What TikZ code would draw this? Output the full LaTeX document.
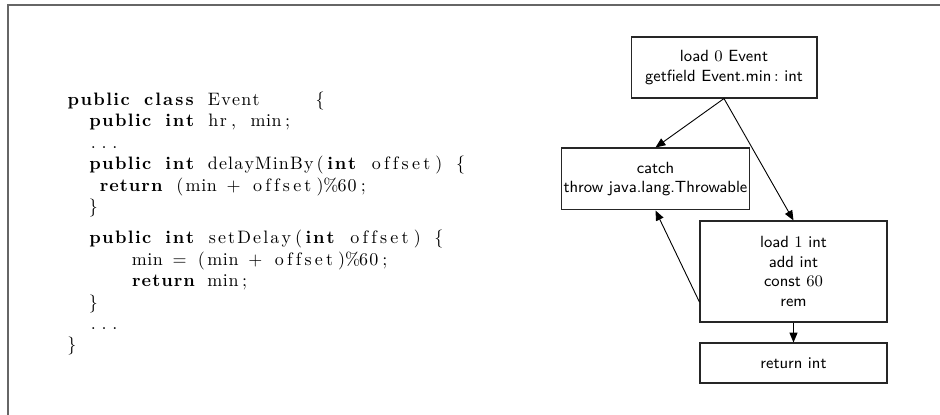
\documentclass[tikz,border=0pt]{standalone}
\usetikzlibrary{arrows.meta,calc}
\makeatletter
\newlength\fxw
\setlength\fxw{6pt}
\newcount\tkn
% a token set in fixed columns, letters spread as in listings
\newcommand\tk[1]{\tkn=0 \@tfor\tk@c:=#1\do{\advance\tkn 1 }%
  \hbox to \tkn\fxw{\hss\@tfor\tk@c:=#1\do{\tk@c\hss}}}
\makeatother
\newcommand\kw[1]{{\bfseries\tk{#1}}}
\newcommand\sk{\hspace*{\fxw}}
\begin{document}
\begin{tikzpicture}[x=0.5556pt,y=-0.5556pt,
  box/.style={draw=black!85,line width=0.6pt,font=\small\sffamily,align=center,inner sep=1pt},
  code/.style={anchor=base west,inner sep=0pt,font=\fontsize{10}{12}\selectfont},
  arr/.style={-{Triangle[length=5.5pt,width=4.5pt]},line width=0.5pt}]
\useasboundingbox (0,0) rectangle (940,415);
\draw[black!60,line width=0.9pt] (8,415) -- (8,5) -- (940,5);
% code (column width 6pt = 10.8 units; column 0 at x=66)
\node[code] (l1) at (66,106) {\kw{public}\sk\kw{class}\sk\tk{Event}\sk\sk\sk\sk\sk\tk{\{}};
\node[code] (l2) at (87.6,127) {\kw{public}\sk\kw{int}\sk\tk{hr}\tk{,}\sk\tk{min}\tk{;}};
\node[code] (l3) at (87.6,149) {\tk{.}\tk{.}\tk{.}};
\node[code] (l4) at (87.6,170) {\kw{public}\sk\kw{int}\sk\tk{delayMinBy}\tk{(}\kw{int}\sk\tk{offset}\tk{)}\sk\tk{\{}};
\node[code] (l5) at (98.4,192) {\kw{return}\sk\tk{(}\tk{min}\sk\tk{+}\sk\tk{offset}\tk{)}\tk{\%}\tk{60}\tk{;}};
\node[code] (l6) at (87.6,213) {\tk{\}}};
\node[code] (l8) at (87.6,244) {\kw{public}\sk\kw{int}\sk\tk{setDelay}\tk{(}\kw{int}\sk\tk{offset}\tk{)}\sk\tk{\{}};
\node[code] (l9) at (130.8,266) {\tk{min}\sk\tk{=}\sk\tk{(}\tk{min}\sk\tk{+}\sk\tk{offset}\tk{)}\tk{\%}\tk{60}\tk{;}};
\node[code] (l10) at (130.8,287) {\kw{return}\sk\tk{min}\tk{;}};
\node[code] (l11) at (87.6,309) {\tk{\}}};
\node[code] (l12) at (87.6,330) {\tk{.}\tk{.}\tk{.}};
\node[code] (l13) at (66,351) {\tk{\}}};
% graph
\node[box,minimum width=103.3pt,minimum height=33.9pt] (A) at (724,67.5) {load $0$ Event\\getfield Event.min$\,:$ int};
\node[box,minimum width=103.9pt,minimum height=34.4pt] (B) at (655.5,179) {catch\\throw java.lang.Throwable};
\node[box,minimum width=103.9pt,minimum height=56.1pt] (C) at (793.5,271.5) {load $1$ int\\add int\\const $60$\\rem};
\node[box,minimum width=103.9pt,minimum height=22.2pt] (D) at (793.5,363) {return int};
\coordinate (cw) at ($(C.south west)!0.2!(C.north west)$);
\draw[arr] (A.south) -- (B.north);
\draw[arr] (A.south) -- (C.north);
\draw[arr] (cw) -- (B.south);
\draw[arr] (C.south) -- (D.north);
\end{tikzpicture}
\end{document}
